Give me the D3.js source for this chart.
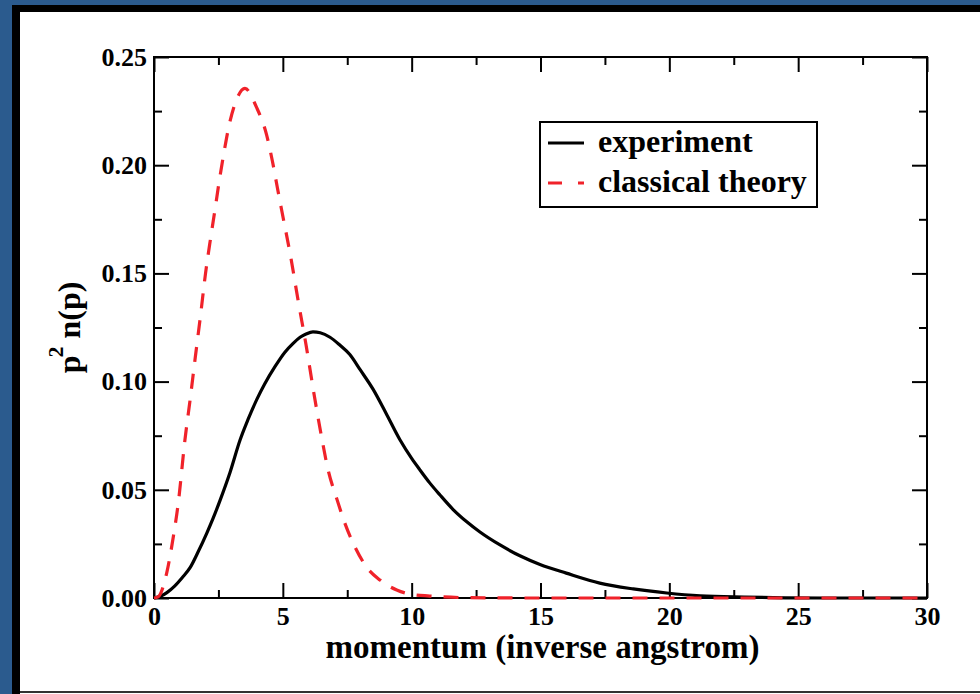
<!DOCTYPE html>
<html>
<head>
<meta charset="utf-8">
<script src="https://cdn.jsdelivr.net/npm/d3@7"></script>
<style>
  html, body { margin: 0; padding: 0; background: #2b5b8e; }
  svg { display: block; }
  text { font-family: "Liberation Serif", "Times New Roman", Times, serif; font-weight: bold; fill: #000; }
</style>
</head>
<body>
<svg id="chart" width="980" height="694"></svg>
<script>
// Measured momentum distribution p^2 n(p)
const expP = [0, 0.25, 0.5, 0.8, 1.1, 1.4, 1.7, 2.05, 2.3, 2.56, 2.95, 3.34, 3.65, 4.0, 4.3, 4.7,
  5.08, 5.4, 5.67, 5.9, 6.17, 6.45, 6.83, 7.2, 7.6, 8.0, 8.5, 9.0, 9.55, 10.0, 10.32, 10.7, 11.1,
  11.6, 12.15, 12.65, 13.43, 14.2, 14.98, 16.0, 17.3, 18.6, 19.9, 21.2, 22.9, 24.5, 26, 28, 30];
const expV = [0, 0.0008, 0.0025, 0.0055, 0.0095, 0.014, 0.021, 0.030, 0.037, 0.045, 0.058, 0.073,
  0.0825, 0.092, 0.099, 0.107, 0.1136, 0.1177, 0.1205, 0.122, 0.123, 0.1226, 0.1205, 0.117,
  0.1125, 0.1055, 0.0965, 0.0855, 0.073, 0.0645, 0.0592, 0.0532, 0.0476, 0.041, 0.0351, 0.0305,
  0.0245, 0.0195, 0.0155, 0.0115, 0.0069, 0.0042, 0.0023, 0.001, 0.0004, 0.0001, 0, 0, 0];

// Classical (Maxwellian) prediction
const theoryP = [0, 0.16, 0.49, 0.75, 0.94, 1.2, 1.4, 1.6, 1.8, 2.0, 2.2, 2.38, 2.53, 2.74, 2.88,
  3.21, 3.53, 3.98, 4.37, 4.6, 4.79, 4.95, 5.3, 5.6, 5.9, 6.2, 6.51, 6.76, 7.09, 7.41, 7.8, 8.25,
  8.77, 9.42, 9.93, 10.7, 12, 15, 20, 25, 30];
const theoryV = [0, 0.0005, 0.0114, 0.0283, 0.0437, 0.073, 0.0915, 0.111, 0.130, 0.150, 0.1665,
  0.1805, 0.1925, 0.2075, 0.2165, 0.2305, 0.2355, 0.2267, 0.214, 0.2016, 0.1895, 0.1795, 0.158,
  0.137, 0.117, 0.095, 0.074, 0.059, 0.046, 0.0345, 0.0236, 0.0143, 0.0083, 0.0037, 0.0018,
  0.0009, 0.0002, 0, 0, 0, 0];

const xMajor = [0, 5, 10, 15, 20, 25, 30];
const xMinor = [2.5, 7.5, 12.5, 17.5, 22.5, 27.5];
const yMajor = [0, 0.05, 0.10, 0.15, 0.20, 0.25];
const yMinor = [0.025, 0.075, 0.125, 0.175, 0.225];
const seriesNames = ["experiment", "classical theory"];

const svg = d3.select("#chart");

// page frame
svg.append("rect").attr("x", 12).attr("y", 5).attr("width", 968).attr("height", 689).attr("fill", "#000");
svg.append("rect").attr("x", 20).attr("y", 12).attr("width", 960).attr("height", 679).attr("fill", "#fff");
svg.append("rect").attr("x", 20).attr("y", 691).attr("width", 960).attr("height", 2).attr("fill", "#333");
svg.append("rect").attr("x", 20).attr("y", 693).attr("width", 960).attr("height", 1).attr("fill", "#fff");

const L = 154, R = 927, T = 57, B = 598;
const x = d3.scaleLinear().domain([0, 30]).range([L, R]);
const y = d3.scaleLinear().domain([0, 0.25]).range([B, T]);

const major = 15, minor = 8;
const g = svg.append("g");

function styleAxis(sel) {
  sel.select(".domain").remove();
  sel.selectAll("line").attr("stroke", "#000").attr("stroke-width", 2);
}

// bottom
g.append("g").attr("transform", `translate(0,${B})`)
  .call(d3.axisBottom(x).tickValues(xMajor).tickSize(-major).tickPadding(9).tickFormat(d3.format("d")))
  .call(styleAxis)
  .call(s => s.selectAll("text").attr("font-size", 26).attr("font-family", null));
g.append("g").attr("transform", `translate(0,${B})`)
  .call(d3.axisBottom(x).tickValues(xMinor).tickSize(-minor).tickFormat(""))
  .call(styleAxis);
// top
g.append("g").attr("transform", `translate(0,${T})`)
  .call(d3.axisTop(x).tickValues(xMajor).tickSize(-major).tickFormat(""))
  .call(styleAxis);
g.append("g").attr("transform", `translate(0,${T})`)
  .call(d3.axisTop(x).tickValues(xMinor).tickSize(-minor).tickFormat(""))
  .call(styleAxis);
// left
g.append("g").attr("transform", `translate(${L},0)`)
  .call(d3.axisLeft(y).tickValues(yMajor).tickSize(-major).tickPadding(7).tickFormat(d3.format(".2f")))
  .call(styleAxis)
  .call(s => s.selectAll("text").attr("font-size", 26).attr("font-family", null));
g.append("g").attr("transform", `translate(${L},0)`)
  .call(d3.axisLeft(y).tickValues(yMinor).tickSize(-minor).tickFormat(""))
  .call(styleAxis);
// right
g.append("g").attr("transform", `translate(${R},0)`)
  .call(d3.axisRight(y).tickValues(yMajor).tickSize(-major).tickFormat(""))
  .call(styleAxis);
g.append("g").attr("transform", `translate(${R},0)`)
  .call(d3.axisRight(y).tickValues(yMinor).tickSize(-minor).tickFormat(""))
  .call(styleAxis);

// plot frame
svg.append("rect").attr("x", L).attr("y", T).attr("width", R - L).attr("height", B - T)
  .attr("fill", "none").attr("stroke", "#000").attr("stroke-width", 2);

const line = d3.line().x(d => x(d[0])).y(d => y(d[1])).curve(d3.curveMonotoneX);
const dash = "15,12";

svg.append("path")
  .datum(d3.zip(expP, expV))
  .attr("d", line)
  .attr("fill", "none").attr("stroke", "#000").attr("stroke-width", 3.2)
  .attr("stroke-linejoin", "round");

svg.append("path")
  .datum(d3.zip(theoryP, theoryV))
  .attr("d", line)
  .attr("fill", "none").attr("stroke", "#f0222a").attr("stroke-width", 3.2)
  .attr("stroke-dasharray", dash);

// axis titles
svg.append("text").attr("x", (L + R) / 2 + 2).attr("y", 658)
  .attr("text-anchor", "middle").attr("font-size", 33)
  .text("momentum (inverse angstrom)");

const yl = svg.append("text")
  .attr("transform", `translate(80,${(T + B) / 2}) rotate(-90)`)
  .attr("text-anchor", "middle").attr("font-size", 32);
yl.append("tspan").text("p");
yl.append("tspan").attr("font-size", 22).attr("dy", -17).attr("dx", -2).text("2");
yl.append("tspan").attr("dy", 17).text("\u00a0n(p)");

// legend
const lg = svg.append("g");
lg.append("rect").attr("x", 540).attr("y", 122).attr("width", 277).attr("height", 85)
  .attr("fill", "#fff").attr("stroke", "#000").attr("stroke-width", 2);
const legendRows = [
  { name: seriesNames[0], color: "#000", dash: null, cy: 143 },
  { name: seriesNames[1], color: "#f0222a", dash: "14,16", cy: 183 }
];
legendRows.forEach(r => {
  lg.append("line").attr("x1", 548).attr("x2", 584).attr("y1", r.cy).attr("y2", r.cy)
    .attr("stroke", r.color).attr("stroke-width", 3.2)
    .attr("stroke-dasharray", r.dash);
  lg.append("text").attr("x", 598).attr("y", r.cy + 9).attr("font-size", 32).text(r.name);
});
</script>
</body>
</html>
